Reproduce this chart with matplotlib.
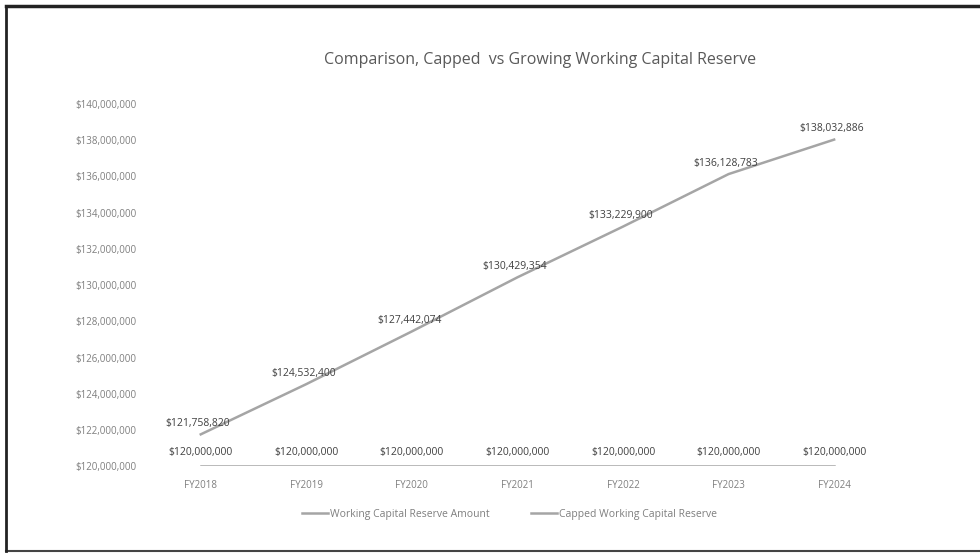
import matplotlib.pyplot as plt
from matplotlib.lines import Line2D

years = ['FY2018', 'FY2019', 'FY2020', 'FY2021', 'FY2022', 'FY2023', 'FY2024']
growing_reserve = [121758820, 124532400, 127442074, 130429354, 133229900, 136128783, 138032886]
capped_reserve = [120000000, 120000000, 120000000, 120000000, 120000000, 120000000, 120000000]
y_ticks = list(range(120000000, 140000001, 2000000))

line_color = '#a5a5a5'
text_color = '#7f7f7f'
label_color = '#404040'

plt.rcParams['font.family'] = ['Open Sans', 'DejaVu Sans']

fig = plt.figure(figsize=(9.8, 5.59), dpi=100)
ax = fig.add_axes([0.151, 0.166, 0.754, 0.648])

x = range(len(years))
ax.plot(x, growing_reserve, color=line_color, linewidth=1.8,
        label='Working Capital Reserve Amount')
ax.plot(x, capped_reserve, color=line_color, linewidth=1.8,
        label='Capped Working Capital Reserve')

for i, v in enumerate(growing_reserve):
    ax.annotate('${:,.0f}'.format(v), (i, v), xytext=(-2, 4), textcoords='offset points',
                ha='center', va='bottom', fontsize=7.5, color=label_color)
for i, v in enumerate(capped_reserve):
    ax.annotate('${:,.0f}'.format(v), (i, v), xytext=(0, 6), textcoords='offset points',
                ha='center', va='bottom', fontsize=7.5, color=label_color)

ax.set_xlim(-0.5, len(years) - 0.5)
ax.set_ylim(120000000, 140000000)
ax.set_xticks(list(x))
ax.set_xticklabels(years)
ax.set_yticks(y_ticks)
ax.set_yticklabels(['${:,.0f}'.format(t) for t in y_ticks])
ax.tick_params(axis='both', length=0, labelsize=7, labelcolor=text_color)
ax.tick_params(axis='x', pad=10)
ax.tick_params(axis='y', pad=8)
for s in ax.spines.values():
    s.set_visible(False)

fig.text(0.551, 0.893, 'Comparison, Capped  vs Growing Working Capital Reserve',
         ha='center', va='center', fontsize=11.5, color='#595959')

handles = [Line2D([0], [0], color=line_color, linewidth=1.8),
           Line2D([0], [0], color=line_color, linewidth=1.8)]
fig.legend(handles, ['Working Capital Reserve Amount', 'Capped Working Capital Reserve'],
           loc='center', bbox_to_anchor=(0.52, 0.08), ncol=2, frameon=False,
           fontsize=7.5, labelcolor=text_color, handlelength=2.5, handletextpad=0.2,
           columnspacing=4)

# outer frame
fig.add_artist(Line2D([0.006, 1.0], [0.989, 0.989], color='#222222', linewidth=2.5))
fig.add_artist(Line2D([0.006, 1.0], [0.014, 0.014], color='#444444', linewidth=1.5))
fig.add_artist(Line2D([0.006, 0.006], [0.014, 0.989], color='#222222', linewidth=2))

fig.savefig('out.png', dpi=100, facecolor='white')
